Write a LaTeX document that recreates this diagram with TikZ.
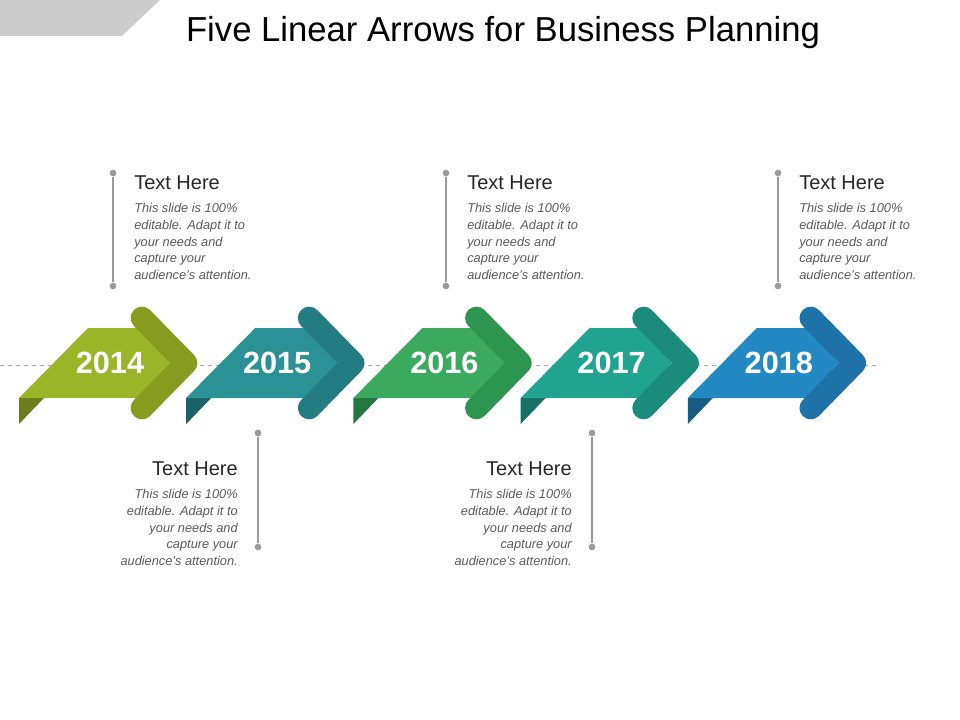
\documentclass[tikz,border=0pt]{standalone}
\usepackage{fontspec}
\setmainfont{Liberation Sans}
\begin{document}
\begin{tikzpicture}[x=0.75pt,y=-0.75pt,
  yr/.style={font=\bfseries\fontsize{23}{26}\selectfont,text=white},
  ttl/.style={font=\fontsize{15}{18}\selectfont,text=black!85,inner sep=0pt},
  bdy/.style={font=\itshape\fontsize{9.6}{12.6}\selectfont,text=black!65,inner sep=0pt,align=left},
  bdyr/.style={bdy,align=right},
  pin/.style={draw=black!40,line width=1pt},
  dot/.style={circle,fill=black!40,inner sep=0pt,minimum size=5pt}]
\useasboundingbox (0,0) rectangle (960,720);
\fill[black!20] (0,0)--(160,0)--(122,36)--(0,36)--cycle;
\node[font=\fontsize{26}{30}\selectfont] (title) at (503,33) {Five Linear Arrows for Business Planning};
\draw[black!35,dashed,line width=0.5pt] (0,365)--(880,365);
\foreach \i/\yr/\cb/\cc in {0/2014/9BB529/879C1F,1/2015/2A9297/237C82,2/2016/3BAA5E/2E9550,3/2017/21A48F/1B8C7C,4/2018/2389C2/1E72A8}{
  \begin{scope}[xshift=\i*167.2*0.75pt]
  \definecolor{cb}{HTML}{\cb}\definecolor{cc}{HTML}{\cc}
  \fill[cc!80!black] (19,398)--(19,424)--(44,398)--cycle;
  \fill[cb] (19,398)--(88,328)--(140,328)--(172,363)--(140,398)--cycle;
  \draw[white,line width=0.8pt] (140,329)--(171,363)--(140,397);
  \draw[cc,line width=17pt,line cap=round,line join=round] (142,318)--(186,363)--(142,408);
  \node[yr] (y\i) at (110,363) {\yr};
  \end{scope}}
\foreach \x/\n in {113/a,446/b,778/c}{
  \node[dot] (t\n) at (\x,173) {}; \node[dot] (b\n) at (\x,286) {};
  \draw[pin] (t\n)--(b\n);
  \node[ttl,anchor=base west] (h\n) at (\x+21,190) {Text Here};
  \node[bdy,anchor=north west] (d\n) at (\x+21,203) {This slide is 100\%\\editable. Adapt it to\\your needs and\\capture your\\audience's attention.};
}
\foreach \x/\n in {258/d,592/e}{
  \node[dot] (t\n) at (\x,433) {}; \node[dot] (b\n) at (\x,547) {};
  \draw[pin] (t\n)--(b\n);
  \node[ttl,anchor=base east] (h\n) at (\x-20,475) {Text Here};
  \node[bdyr,anchor=north east] (d\n) at (\x-20,489) {This slide is 100\%\\editable. Adapt it to\\your needs and\\capture your\\audience's attention.};
}
\end{tikzpicture}
\end{document}
